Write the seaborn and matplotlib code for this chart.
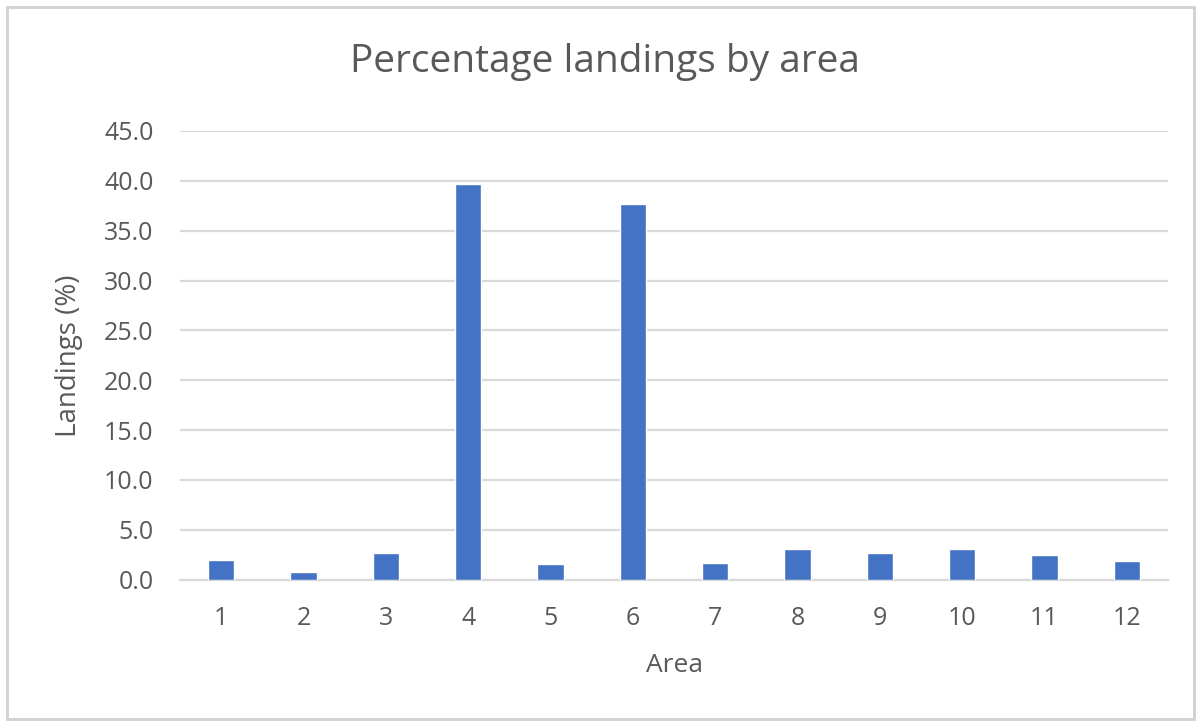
import matplotlib
matplotlib.use("Agg")
import matplotlib.pyplot as plt
from matplotlib.patches import Rectangle
import seaborn as sns
import pandas as pd
import numpy as np

areas = ["1", "2", "3", "4", "5", "6", "7", "8", "9", "10", "11", "12"]
landings_pct = [2.0, 0.8, 2.7, 39.7, 1.6, 37.7, 1.7, 3.1, 2.7, 3.1, 2.5, 1.9]
y_ticks = [0, 5, 10, 15, 20, 25, 30, 35, 40, 45]

df = pd.DataFrame({"Area": areas, "Landings": landings_pct})

sns.set_theme(style="white")
plt.rcParams["font.family"] = ["Open Sans", "DejaVu Sans"]

text_col = "#595959"
grid_col = "#D9D9D9"

W, H = 1202, 723
fig = plt.figure(figsize=(W / 100, H / 100), dpi=100)
left, right, top, bottom = 180, 1168, 131, 579.5
ax = fig.add_axes([left / W, 1 - bottom / H, (right - left) / W, (bottom - top) / H])

sns.barplot(data=df, x="Area", y="Landings", order=areas, color="#4472C4",
            width=0.32, saturation=1, ax=ax, zorder=3)

ax.set_xlim(-0.5, len(areas) - 0.5)
ax.set_ylim(0, 45)
ax.set_yticks(y_ticks)
ax.set_yticklabels([f"{v:.1f}" for v in y_ticks])
ax.yaxis.grid(True, color=grid_col, linewidth=1.6, zorder=0)
ax.set_axisbelow(True)

for s in ["top", "right", "left"]:
    ax.spines[s].set_visible(False)
ax.spines["bottom"].set_color(grid_col)
ax.spines["bottom"].set_linewidth(1.6)

ax.tick_params(axis="y", length=0, pad=19, labelsize=18, labelcolor=text_col)
ax.tick_params(axis="x", which="major", length=0, pad=19, labelsize=18, labelcolor=text_col)
ax.set_xticks(np.arange(-0.5, len(areas)), minor=True)
ax.tick_params(axis="x", which="minor", length=9, width=1.6, color=grid_col)

ax.set_xlabel("Area", fontsize=19, color=text_col, va="center")
ax.xaxis.set_label_coords(0.5, (bottom - 666) / (bottom - top))
ax.set_ylabel("Landings (%)", fontsize=20, color=text_col, va="center")
ax.yaxis.set_label_coords((69 - left) / (right - left), (bottom - 356) / (bottom - top))

fig.text(605 / W, 1 - 62 / H, "Percentage landings by area",
         ha="center", va="center", fontsize=28, color=text_col)

fig.patches.append(Rectangle((7 / W, 1 - 719 / H), (1194 - 7) / W, (719 - 7) / H,
                             transform=fig.transFigure, fill=False,
                             edgecolor="#D0D0D0", linewidth=2))

fig.savefig("out.png", dpi=100, facecolor="white")
